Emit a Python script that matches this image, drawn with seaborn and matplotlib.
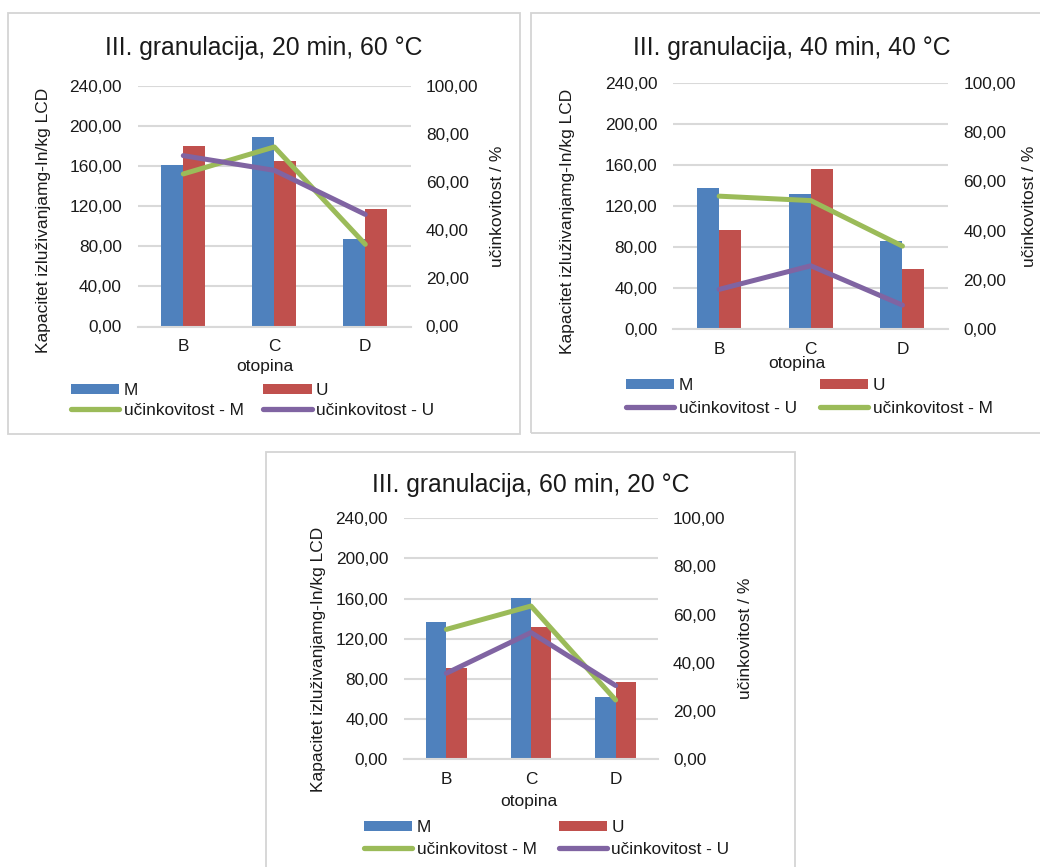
import numpy as np
import pandas as pd
import matplotlib
matplotlib.use("Agg")
import matplotlib.pyplot as plt
from matplotlib.lines import Line2D
from matplotlib.patches import Patch, Rectangle
import seaborn as sns

# ---------------- data ----------------
categories = ["B", "C", "D"]
series = ["M", "U"]
titles = ["III. granulacija, 20 min, 60 °C",
          "III. granulacija, 40 min, 40 °C",
          "III. granulacija, 60 min, 20 °C"]

cap_M_20 = [160.5, 188.5, 86.7]
cap_U_20 = [179.7, 164.8, 117.5]
eff_M_20 = [63.3, 74.5, 34.1]
eff_U_20 = [70.9, 64.8, 46.5]

cap_M_40 = [137.1, 131.5, 86.1]
cap_U_40 = [96.1, 156.2, 58.5]
eff_M_40 = [54.0, 52.2, 33.7]
eff_U_40 = [16.1, 25.7, 9.7]

cap_M_60 = [137.1, 160.3, 62.4]
cap_U_60 = [91.3, 132.1, 77.0]
eff_M_60 = [53.9, 63.6, 24.6]
eff_U_60 = [35.7, 52.6, 30.6]

left_ticks = [0, 40, 80, 120, 160, 200, 240]
right_ticks = [0, 20, 40, 60, 80, 100]

xlabel = "otopina"
ylabel_left = "Kapacitet izluživanjamg-In/kg LCD"
ylabel_right = "učinkovitost / %"
eff_label_M = "učinkovitost - M"
eff_label_U = "učinkovitost - U"

# ---------------- style ----------------
sns.set_theme(style="white")
plt.rcParams['font.family'] = ['Liberation Sans', 'DejaVu Sans']

BLUE = "#4F81BD"
RED = "#C0504D"
GREEN = "#9BBB59"
PURPLE = "#8064A2"
GRID = "#D9D9D9"
TXT = "#1a1a1a"

W, H = 1040, 867
fig = plt.figure(figsize=(W / 100, H / 100), dpi=100)
fig.patch.set_facecolor("white")


def fx(x):
    return x / W


def fy(y):
    return 1 - y / H


def fmt(v):
    return f"{v:.2f}".replace(".", ",")


TICK_FS = 12.4
LAB_FS = 12.5
LEG_FS = 12.4
TITLE_FS = 17.8


def panel(cfg, capM, capU, effM, effU, title, eff_order_first):
    # border box
    bx0, by0, bx1, by1 = cfg["box"]
    fig.add_artist(Rectangle((fx(bx0), fy(by1)), fx(bx1) - fx(bx0), fy(by0) - fy(by1),
                             transform=fig.transFigure, fill=False,
                             edgecolor="#D4D4D4", lw=1.3, zorder=0))
    x0, y0, x1, y1 = cfg["plot"]
    ax = fig.add_axes([fx(x0), fy(y1), fx(x1) - fx(x0), fy(y0) - fy(y1)])
    df = pd.DataFrame({
        "otopina": categories * 2,
        "serija": [series[0]] * len(categories) + [series[1]] * len(categories),
        "vrijednost": list(capM) + list(capU),
    })
    sns.barplot(data=df, x="otopina", y="vrijednost", hue="serija",
                order=categories, hue_order=series, palette=[BLUE, RED],
                width=0.48, gap=0, saturation=1, legend=False, ax=ax,
                edgecolor="none", linewidth=0)
    ax.set_axisbelow(True)
    ax.set_ylim(0, 240)
    ax.set_yticks(left_ticks)
    ax.set_yticklabels([fmt(v) for v in left_ticks])
    ax.yaxis.grid(True, color=GRID, lw=1.5)
    for s in ["top", "right", "left"]:
        ax.spines[s].set_visible(False)
    ax.spines["bottom"].set_color(GRID)
    ax.spines["bottom"].set_linewidth(1.5)
    ax.tick_params(axis="y", length=0, pad=11.5, labelsize=TICK_FS, colors=TXT)
    ax.tick_params(axis="x", length=0, pad=9, labelsize=TICK_FS, colors=TXT)

    ax2 = ax.twinx()
    xs = np.arange(len(categories))
    line_kw = dict(lw=3.6, solid_capstyle="round", solid_joinstyle="round")
    if eff_order_first == "M":
        sns.lineplot(x=xs, y=effM, ax=ax2, color=GREEN, **line_kw)
        sns.lineplot(x=xs, y=effU, ax=ax2, color=PURPLE, **line_kw)
    else:
        sns.lineplot(x=xs, y=effU, ax=ax2, color=PURPLE, **line_kw)
        sns.lineplot(x=xs, y=effM, ax=ax2, color=GREEN, **line_kw)
    ax2.set_ylim(0, 100)
    ax2.set_yticks(right_ticks)
    ax2.set_yticklabels([fmt(v) for v in right_ticks])
    for s in ax2.spines.values():
        s.set_visible(False)
    ax2.tick_params(axis="y", length=0, pad=10.8, labelsize=TICK_FS, colors=TXT)
    ax.set_xlim(-0.5, len(categories) - 0.5)

    # labels
    ax.set_xlabel(xlabel, fontsize=LAB_FS, color=TXT)
    ax.xaxis.set_label_coords(fx(cfg["xlab"][0]), fy(cfg["xlab"][1]), transform=fig.transFigure)
    ax.xaxis.label.set_va("center")
    ax.set_ylabel(ylabel_left, fontsize=LAB_FS, color=TXT)
    ax.yaxis.set_label_coords(fx(cfg["ylab"][0]), fy(cfg["ylab"][1]), transform=fig.transFigure)
    ax.yaxis.label.set_va("center")
    ax.yaxis.label.set_ha("center")
    ax2.set_ylabel(ylabel_right, fontsize=LAB_FS, color=TXT, rotation=90)
    ax2.yaxis.set_label_coords(fx(cfg["ylab2"][0]), fy(cfg["ylab2"][1]), transform=fig.transFigure)
    ax2.yaxis.label.set_va("center")
    ax2.yaxis.label.set_ha("center")

    fig.text(fx(cfg["title"][0]), fy(cfg["title"][1]), title, fontsize=TITLE_FS,
             color=TXT, ha="center", va="center")

    # legend
    hM = Patch(facecolor=BLUE, edgecolor="none")
    hU = Patch(facecolor=RED, edgecolor="none")
    lM = Line2D([], [], color=GREEN, lw=3.8, solid_capstyle="round")
    lU = Line2D([], [], color=PURPLE, lw=3.8, solid_capstyle="round")
    if eff_order_first == "M":
        handles = [hM, lM, hU, lU]
        labels = [series[0], eff_label_M, series[1], eff_label_U]
    else:
        handles = [hM, lU, hU, lM]
        labels = [series[0], eff_label_U, series[1], eff_label_M]
    leg = ax2.legend(handles, labels, ncol=2, loc="upper left",
                     bbox_to_anchor=(fx(cfg["leg"][0]), fy(cfg["leg"][1])),
                     bbox_transform=fig.transFigure, frameon=False,
                     fontsize=LEG_FS, handlelength=2.8, handleheight=0.5,
                     handletextpad=0.25, columnspacing=cfg["colsp"],
                     labelspacing=cfg["lsp"], borderpad=0, borderaxespad=0)
    for t in leg.get_texts():
        t.set_color(TXT)
    return ax, ax2


cfg1 = dict(box=(8, 13, 520, 434), plot=(137.8, 85.5, 410.8, 326.5),
            title=(264, 48.3), xlab=(265, 366.7), ylab=(44, 220), ylab2=(497, 206.7),
            leg=(71, 383), colsp=1.16, lsp=0.27)
cfg2 = dict(box=(530.7, 13, 1050, 432.7), plot=(673.3, 83, 948.3, 329),
            title=(791.7, 48.3), xlab=(796.7, 363.3), ylab=(567.7, 221.7), ylab2=(1029, 206),
            leg=(626, 378.3), colsp=1.36, lsp=0.44)
cfg3 = dict(box=(266, 451.7, 795, 875), plot=(404, 518.3, 658, 759.3),
            title=(530.3, 485), xlab=(529, 801.7), ylab=(318.5, 659.7), ylab2=(745.5, 638),
            leg=(364, 820), colsp=1.31, lsp=0.38)

panel(cfg1, cap_M_20, cap_U_20, eff_M_20, eff_U_20, titles[0], "M")
panel(cfg2, cap_M_40, cap_U_40, eff_M_40, eff_U_40, titles[1], "U")
panel(cfg3, cap_M_60, cap_U_60, eff_M_60, eff_U_60, titles[2], "M")

fig.savefig("out.png", dpi=100, facecolor="white")
